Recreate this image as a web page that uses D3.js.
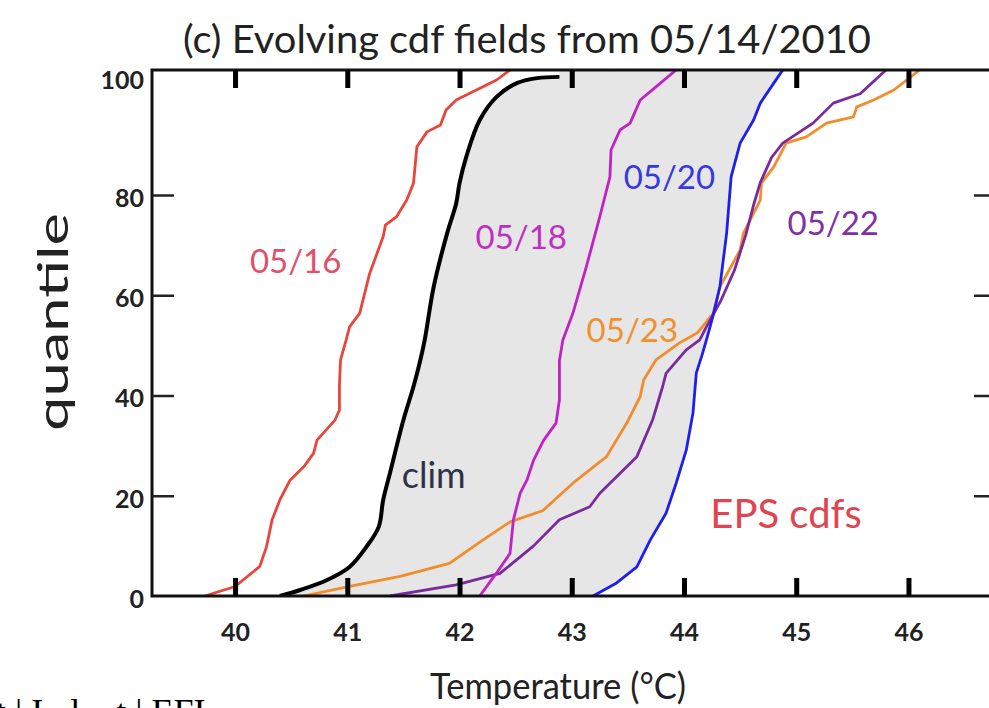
<!DOCTYPE html>
<html>
<head>
<meta charset="utf-8">
<script src="https://cdn.jsdelivr.net/npm/d3@7"></script>
<style>
html, body { margin: 0; padding: 0; background: #fff; overflow: hidden; }
svg text { font-family: Lato, "Open Sans", sans-serif; }
</style>
</head>
<body>
<svg id="chart" width="989" height="708"></svg>
<script>
// axis ticks
const xTicks = [40, 41, 42, 43, 44, 45, 46];
const yTicks = [0, 20, 40, 60, 80, 100];
const yInner = [20, 40, 60, 80];

// climatological cdf (temperature in C, quantile in %)
const clim_t = [40.40, 40.58, 40.82, 41.02, 41.17, 41.28, 41.32, 41.38, 41.50, 41.59, 41.65, 41.69, 41.77, 41.89, 41.97, 42.00, 42.06, 42.18, 42.33, 42.51, 42.69, 42.89];
const clim_q = [0, 1.2, 3.2, 5.8, 9.8, 13.8, 19.2, 24.5, 35.1, 41.8, 47, 51.1, 61.7, 72.4, 78.3, 81.9, 86.1, 92, 95.7, 97.9, 98.7, 98.9];

// EPS cdfs, one per forecast date
const t0516 = [39.73, 40.00, 40.22, 40.28, 40.33, 40.40, 40.49, 40.62, 40.70, 40.73, 40.89, 40.93, 40.93, 40.94, 40.99, 41.02, 41.11, 41.20, 41.32, 41.34, 41.44, 41.53, 41.59, 41.62, 41.71, 41.83, 41.88, 41.97, 42.15, 42.33, 42.45];
const q0516 = [0, 1.9, 5.9, 9.8, 15.2, 19.2, 23.1, 26, 28.5, 31.1, 35.1, 37.1, 42, 47.1, 51.1, 53.7, 56.4, 64.4, 71.7, 74, 75.7, 79, 81.9, 87.7, 90.1, 91.2, 93.6, 95.2, 96.8, 98.4, 100];

const t0518 = [42.18, 42.33, 42.45, 42.48, 42.54, 42.60, 42.66, 42.75, 42.86, 42.89, 42.89, 42.92, 43.01, 43.13, 43.25, 43.34, 43.35, 43.43, 43.52, 43.61, 43.75, 43.93];
const q0518 = [0, 4.6, 8.5, 15.2, 20.5, 23.1, 27.1, 31.1, 34.5, 39.1, 47, 51, 56.4, 65.7, 75.7, 82.9, 87.2, 90.4, 91.5, 95.2, 97.3, 100];

const t0520 = [43.19, 43.40, 43.58, 43.70, 43.84, 43.93, 44.02, 44.08, 44.11, 44.16, 44.20, 44.26, 44.32, 44.38, 44.42, 44.50, 44.62, 44.68, 44.80, 44.88];
const q0520 = [0, 2.6, 5.8, 11.2, 16.5, 22.5, 29.1, 36.5, 44.5, 48, 51.1, 56, 61.7, 72.4, 82.9, 88.3, 92, 94.7, 97.9, 100];

const t0522 = [41.38, 41.97, 42.36, 42.66, 42.89, 43.16, 43.25, 43.58, 43.72, 43.81, 43.84, 44.02, 44.14, 44.20, 44.33, 44.45, 44.55, 44.62, 44.68, 44.78, 44.88, 45.15, 45.33, 45.57, 45.80];
const q0522 = [0, 2.2, 4.5, 10, 15.2, 17.8, 20.5, 27.8, 35.1, 41.8, 44.4, 49.1, 51.1, 53.7, 59, 65, 72, 78, 82, 86, 88.3, 91.5, 94.7, 96.2, 100];

const t0523 = [40.61, 41.02, 41.47, 41.91, 42.21, 42.45, 42.74, 43.01, 43.31, 43.49, 43.61, 43.64, 43.75, 43.96, 44.12, 44.26, 44.32, 44.50, 44.53, 44.68, 44.69, 44.80, 44.91, 45.09, 45.27, 45.51, 45.54, 45.69, 45.87, 46.10];
const q0523 = [0, 1.9, 3.9, 6.5, 11.2, 14.8, 17, 22.5, 27.8, 34.5, 39.8, 43.1, 47.1, 50.5, 52.5, 56.4, 61.7, 69, 72.4, 79, 81.9, 84.5, 88.3, 89.3, 91.5, 92.5, 94.1, 95.2, 96.8, 100];

const series = [
  { name: "05/16", t: t0516, q: q0516, color: "#e8453c", text: "#e0506a", lab: [40.54, 67.0] },
  { name: "05/23", t: t0523, q: q0523, color: "#f28c2c", text: "#f0902e", lab: [43.54, 53.3] },
  { name: "05/22", t: t0522, q: q0522, color: "#7a2a9e", text: "#7f31a3", lab: [45.33, 74.6] },
  { name: "05/18", t: t0518, q: q0518, color: "#c022c4", text: "#c030c0", lab: [42.55, 71.8] },
  { name: "05/20", t: t0520, q: q0520, color: "#1e1ef0", text: "#3838e0", lab: [43.87, 83.0] }
];

const W = 989, H = 708;
const svg = d3.select("#chart");

const x = d3.scaleLinear().domain([39.26, 46.78]).range([152, 996]);
const y = d3.scaleLinear().domain([0, 80, 100]).range([596, 195, 70]);

const pts = (t, q) => t.map((v, i) => [v, q[i]]);
const line = d3.line().x(d => x(d[0])).y(d => y(d[1]));
const smooth = d3.line().curve(d3.curveCatmullRom).x(d => x(d[0])).y(d => y(d[1]));

svg.append("defs").append("clipPath").attr("id", "plot")
  .append("rect").attr("x", 152).attr("y", 70).attr("width", 844).attr("height", 526);

const plot = svg.append("g").attr("clip-path", "url(#plot)");

// grey band between the climatology and the 05/20 cdf
const climPts = pts(clim_t, clim_q);
const bluePts = pts(t0520, q0520);
const band = smooth(climPts)
  + "L" + x(clim_t[clim_t.length - 1]) + "," + y(100)
  + line(bluePts.slice().reverse()).replace(/^M/, "L") + "Z";
plot.append("path").attr("d", band).attr("fill", "#e6e6e6");

plot.append("path")
  .attr("d", smooth(climPts))
  .attr("fill", "none").attr("stroke", "#000").attr("stroke-width", 4)
  .attr("stroke-linejoin", "round");

series.forEach(s => {
  plot.append("path")
    .attr("d", line(pts(s.t, s.q)))
    .attr("fill", "none")
    .attr("stroke", s.color)
    .attr("stroke-width", 2.8)
    .attr("stroke-linejoin", "round");
});

// frame
svg.append("rect").attr("x", 152).attr("y", 70).attr("width", 844).attr("height", 526)
  .attr("fill", "none").attr("stroke", "#111").attr("stroke-width", 3);

// axes: ticks pointing inward
const gB = svg.append("g").attr("transform", "translate(0,596)")
  .call(d3.axisBottom(x).tickValues(xTicks).tickSizeInner(-18).tickSizeOuter(0).tickPadding(27));
const gT = svg.append("g").attr("transform", "translate(0,70)")
  .call(d3.axisTop(x).tickValues(xTicks).tickSizeInner(-18).tickSizeOuter(0).tickFormat(""));
const gL = svg.append("g").attr("transform", "translate(152,0)")
  .call(d3.axisLeft(y).tickValues(yTicks).tickSizeInner(-22).tickSizeOuter(0).tickPadding(8));
const gR = svg.append("g").attr("transform", "translate(996,0)")
  .call(d3.axisRight(y).tickValues(yInner).tickSizeInner(-22).tickSizeOuter(0).tickFormat(""));

[gB, gT, gL, gR].forEach(g => g.select(".domain").remove());
gB.selectAll(".tick line").attr("stroke", "#000").attr("stroke-width", 5);
gT.selectAll(".tick line").attr("stroke", "#000").attr("stroke-width", 5);
gL.selectAll(".tick line").attr("stroke", "#222").attr("stroke-width", 2.5)
  .filter(d => d === 0 || d === 100).remove();
gR.selectAll(".tick line").attr("stroke", "#222").attr("stroke-width", 2.5);

gB.selectAll(".tick text")
  .attr("font-size", 25).attr("font-weight", 700).attr("fill", "#222")
  .style("font-family", "Lato, sans-serif");
gL.selectAll(".tick text")
  .attr("font-size", 25).attr("font-weight", 700).attr("fill", "#222")
  .attr("dy", d => d === 100 ? "0.75em" : "0.45em")
  .style("font-family", "Lato, sans-serif");

// curve labels
series.forEach(s => {
  svg.append("text")
    .attr("x", x(s.lab[0])).attr("y", y(s.lab[1]))
    .attr("text-anchor", "middle").attr("dominant-baseline", "central")
    .attr("font-size", 33).attr("fill", s.text)
    .text(s.name);
});
svg.append("text")
  .attr("x", x(41.77)).attr("y", y(24.3))
  .attr("text-anchor", "middle").attr("dominant-baseline", "central")
  .attr("font-size", 36).attr("fill", "#2e3148")
  .text("clim");
svg.append("text")
  .attr("x", x(44.91)).attr("y", y(16.6))
  .attr("text-anchor", "middle").attr("dominant-baseline", "central")
  .attr("font-size", 40).attr("fill", "#e04450")
  .text("EPS cdfs");

// titles
svg.append("text")
  .attr("x", 527).attr("y", 53).attr("text-anchor", "middle")
  .attr("font-size", 38).attr("fill", "#222")
  .attr("textLength", 688).attr("lengthAdjust", "spacingAndGlyphs")
  .text("(c) Evolving cdf fields from 05/14/2010");

svg.append("text")
  .attr("x", 558).attr("y", 699).attr("text-anchor", "middle")
  .attr("font-size", 36).attr("fill", "#222")
  .attr("textLength", 256).attr("lengthAdjust", "spacingAndGlyphs")
  .text("Temperature (\u00B0C)");

svg.append("text")
  .attr("transform", "translate(68,322) rotate(-90)")
  .attr("text-anchor", "middle")
  .attr("font-size", 42).attr("fill", "#222")
  .attr("textLength", 218).attr("lengthAdjust", "spacingAndGlyphs")
  .text("quantile");

// cut-off caption line at the very bottom
svg.append("text")
  .attr("x", -4).attr("y", 724)
  .attr("font-size", 36).attr("fill", "#000")
  .style("font-family", "'Liberation Serif', 'DejaVu Serif', serif")
  .style("white-space", "pre")
  .text("t | I   l    t | EFI");
</script>
</body>
</html>
